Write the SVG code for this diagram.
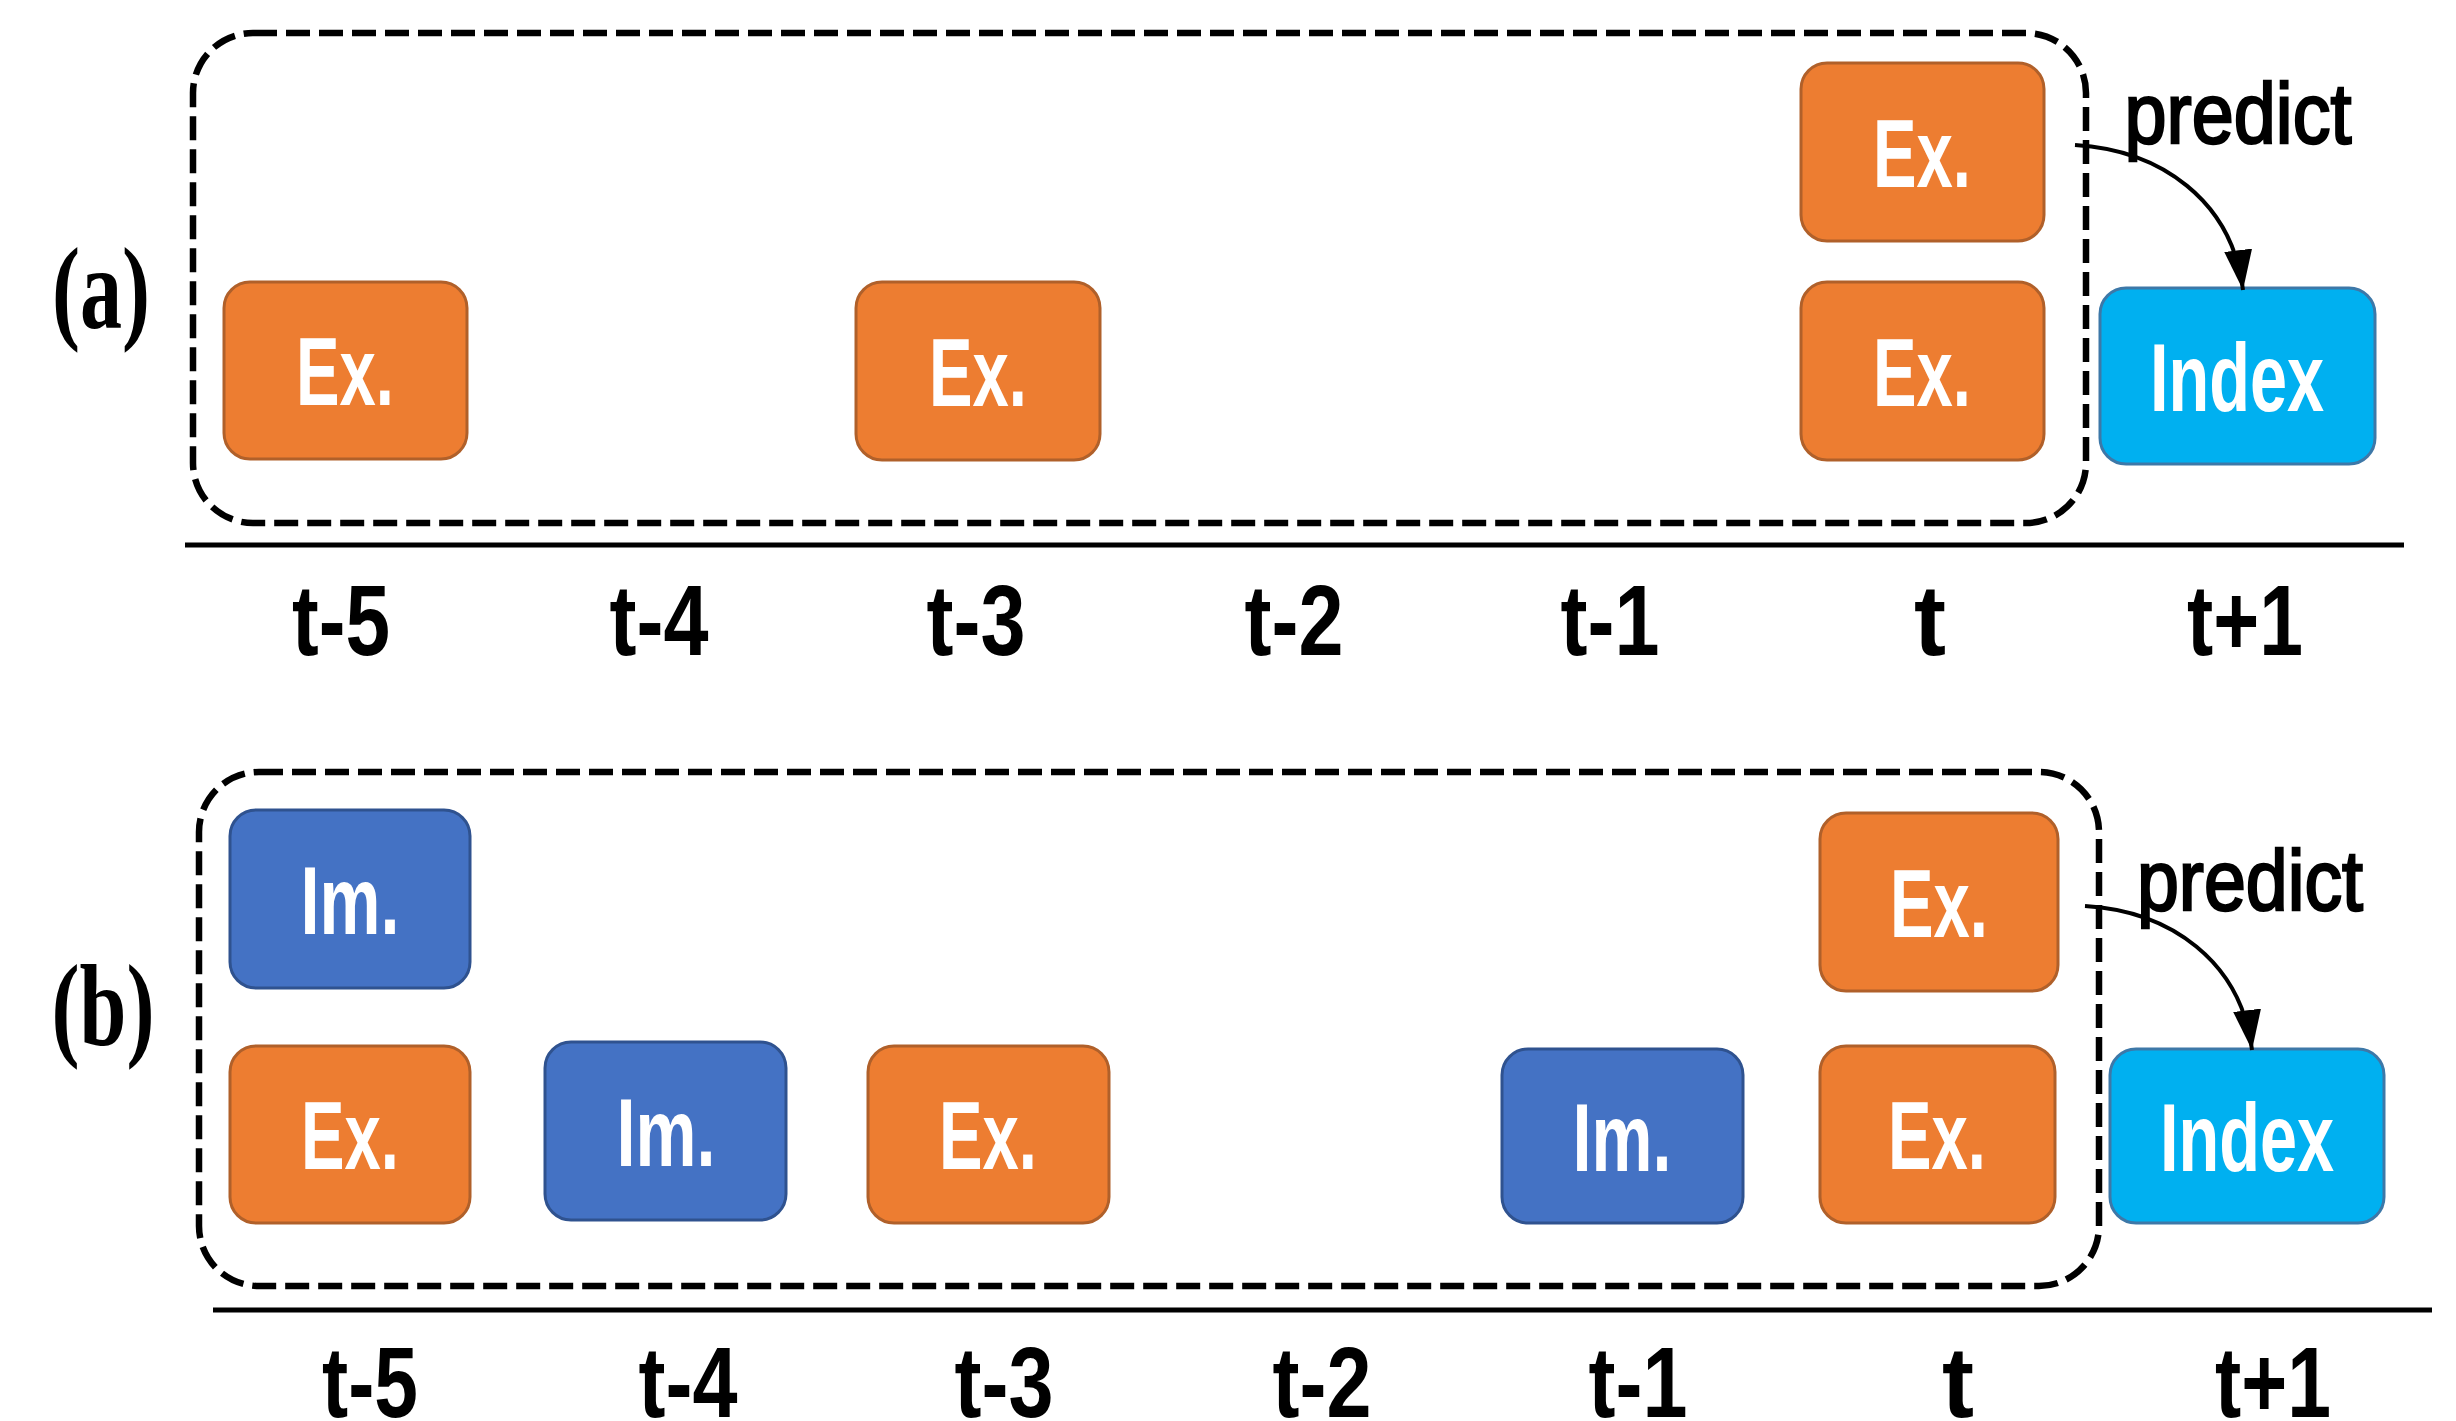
<svg xmlns="http://www.w3.org/2000/svg" width="2456" height="1421" viewBox="0 0 2456 1421">
<style>
.ex{fill:#ED7D31;stroke:#B0602A;stroke-width:3}
.im{fill:#4472C4;stroke:#2F528F;stroke-width:3}
.ix{fill:#00B0F0;stroke:#3D78A8;stroke-width:3}
.bt{font-family:"Liberation Sans",Arial,sans-serif;font-weight:bold;font-size:96px;fill:#fff;text-anchor:middle}
.tl{font-family:"Liberation Sans",Arial,sans-serif;font-weight:bold;font-size:100px;fill:#000;text-anchor:middle}
.pl{font-family:"Liberation Serif","Times New Roman",serif;font-weight:bold;font-size:116px;fill:#000;text-anchor:middle}
.pr{font-family:"Liberation Sans",Arial,sans-serif;font-size:86px;fill:#000;stroke:#000;stroke-width:2.5;text-anchor:middle}
.dash{fill:none;stroke:#000;stroke-width:6.5;stroke-dasharray:24 9}
.axis{stroke:#000;stroke-width:5}
.arr{fill:none;stroke:#000;stroke-width:4;marker-end:url(#ah)}
</style>
<defs>
<marker id="ah" markerUnits="userSpaceOnUse" markerWidth="40" markerHeight="28" refX="40" refY="14" viewBox="0 0 40 28" orient="auto">
<path d="M0,0 L40,14 L0,28 Z" fill="#000"/>
</marker>
</defs>
<rect width="2456" height="1421" fill="#fff"/>

<!-- Panel (a) -->
<g id="panel-a">
<text class="pl" x="101" y="328" textLength="98" lengthAdjust="spacingAndGlyphs">(a)</text>
<rect id="window-a" class="dash" x="193" y="33" width="1893" height="490" rx="60"/>
<line class="axis" x1="185" y1="545" x2="2404" y2="545"/>
<g id="a-labels">
<text class="tl" x="341" y="655" textLength="98" lengthAdjust="spacingAndGlyphs">t-5</text>
<text class="tl" x="659" y="655" textLength="99" lengthAdjust="spacingAndGlyphs">t-4</text>
<text class="tl" x="976" y="655" textLength="99" lengthAdjust="spacingAndGlyphs">t-3</text>
<text class="tl" x="1294" y="655" textLength="99" lengthAdjust="spacingAndGlyphs">t-2</text>
<text class="tl" x="1610" y="655" textLength="99" lengthAdjust="spacingAndGlyphs">t-1</text>
<text class="tl" x="1930" y="655" textLength="32" lengthAdjust="spacingAndGlyphs">t</text>
<text class="tl" x="2245" y="655" textLength="116" lengthAdjust="spacingAndGlyphs">t+1</text>
</g>
</g>
<g id="a-ex-t5"><rect class="ex" x="224" y="282" width="243" height="177" rx="26"/><text class="bt" x="345" y="405" textLength="98" lengthAdjust="spacingAndGlyphs">Ex.</text></g>
<g id="a-ex-t3"><rect class="ex" x="856" y="282" width="244" height="178" rx="26"/><text class="bt" x="978" y="406" textLength="98" lengthAdjust="spacingAndGlyphs">Ex.</text></g>
<g id="a-ex-t-top"><rect class="ex" x="1801" y="63" width="243" height="178" rx="26"/><text class="bt" x="1922" y="187" textLength="98" lengthAdjust="spacingAndGlyphs">Ex.</text></g>
<g id="a-ex-t-bot"><rect class="ex" x="1801" y="282" width="243" height="178" rx="26"/><text class="bt" x="1922" y="406" textLength="98" lengthAdjust="spacingAndGlyphs">Ex.</text></g>
<g id="a-index"><rect class="ix" x="2100" y="288" width="275" height="176" rx="26"/><text class="bt" x="2237" y="411" textLength="174" lengthAdjust="spacingAndGlyphs">Index</text></g>
<text class="pr" x="2238" y="143" textLength="227" lengthAdjust="spacingAndGlyphs">predict</text>

<!-- Panel (b) -->
<g id="panel-b">
<text class="pl" x="103" y="1045" textLength="103" lengthAdjust="spacingAndGlyphs">(b)</text>
<rect id="window-b" class="dash" x="199" y="772" width="1900" height="514" rx="60"/>
<line class="axis" x1="213" y1="1310" x2="2432" y2="1310"/>
<g id="b-labels">
<text class="tl" x="370" y="1417" textLength="96" lengthAdjust="spacingAndGlyphs">t-5</text>
<text class="tl" x="688" y="1417" textLength="99" lengthAdjust="spacingAndGlyphs">t-4</text>
<text class="tl" x="1004" y="1417" textLength="99" lengthAdjust="spacingAndGlyphs">t-3</text>
<text class="tl" x="1322" y="1417" textLength="99" lengthAdjust="spacingAndGlyphs">t-2</text>
<text class="tl" x="1638" y="1417" textLength="99" lengthAdjust="spacingAndGlyphs">t-1</text>
<text class="tl" x="1958" y="1417" textLength="32" lengthAdjust="spacingAndGlyphs">t</text>
<text class="tl" x="2273" y="1417" textLength="116" lengthAdjust="spacingAndGlyphs">t+1</text>
</g>
</g>
<g id="b-im-t5"><rect class="im" x="230" y="810" width="240" height="178" rx="26"/><text class="bt" x="350" y="934" textLength="99" lengthAdjust="spacingAndGlyphs">Im.</text></g>
<g id="b-ex-t5"><rect class="ex" x="230" y="1046" width="240" height="177" rx="26"/><text class="bt" x="350" y="1169" textLength="98" lengthAdjust="spacingAndGlyphs">Ex.</text></g>
<g id="b-im-t4"><rect class="im" x="545" y="1042" width="241" height="178" rx="26"/><text class="bt" x="666" y="1166" textLength="99" lengthAdjust="spacingAndGlyphs">Im.</text></g>
<g id="b-ex-t3"><rect class="ex" x="868" y="1046" width="241" height="177" rx="26"/><text class="bt" x="988" y="1169" textLength="98" lengthAdjust="spacingAndGlyphs">Ex.</text></g>
<g id="b-im-t1"><rect class="im" x="1502" y="1049" width="241" height="174" rx="26"/><text class="bt" x="1622" y="1171" textLength="99" lengthAdjust="spacingAndGlyphs">Im.</text></g>
<g id="b-ex-t-top"><rect class="ex" x="1820" y="813" width="238" height="178" rx="26"/><text class="bt" x="1939" y="937" textLength="98" lengthAdjust="spacingAndGlyphs">Ex.</text></g>
<g id="b-ex-t-bot"><rect class="ex" x="1820" y="1046" width="235" height="177" rx="26"/><text class="bt" x="1937" y="1169" textLength="98" lengthAdjust="spacingAndGlyphs">Ex.</text></g>
<g id="b-index"><rect class="ix" x="2110" y="1049" width="274" height="174" rx="26"/><text class="bt" x="2247" y="1171" textLength="174" lengthAdjust="spacingAndGlyphs">Index</text></g>
<text class="pr" x="2250" y="910" textLength="226" lengthAdjust="spacingAndGlyphs">predict</text>

<g id="connectors">
<path class="arr" d="M2075,145 C2160,150 2232,200 2243,290"/>
<path class="arr" d="M2085,906 C2170,911 2241,961 2252,1050"/>
</g>
</svg>
